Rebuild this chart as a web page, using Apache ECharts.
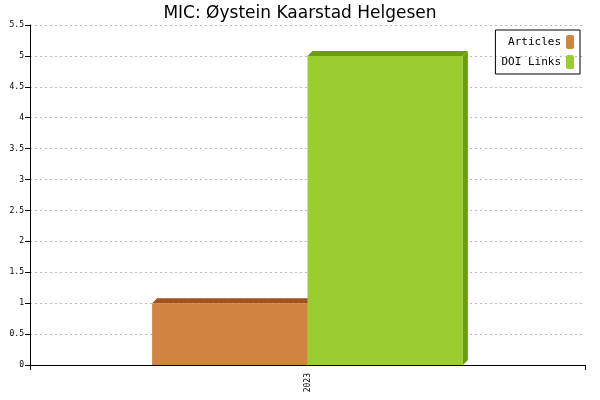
<!DOCTYPE html>
<html><head><meta charset="utf-8">
<script src="https://cdn.jsdelivr.net/npm/echarts@6/dist/echarts.min.js"></script>
<style>html,body{margin:0;padding:0;background:#fff}#c{width:600px;height:400px}</style>
</head><body><div id="c"></div>
<script>
const categories = ['2023'];
const articles = [1];
const doiLinks = [5];
const seriesNames = ['Articles', 'DOI Links'];

const chart = echarts.init(document.getElementById('c'));
function make3d(front, dark, side) {
  return function (params, api) {
    const v = api.value(1);
    const top = api.coord([api.value(0), v]);
    const base = api.coord([api.value(0), 0]);
    const bw = api.size([1, 0])[0];
    const w = bw * 0.28;
    const x0 = side < 0 ? top[0] - w : top[0];
    const x1 = x0 + w;
    const y = top[1], y0 = base[1], d = 5;
    return {
      type: 'group',
      children: [
        { type: 'polygon', shape: { points: [[x1, y], [x1 + d, y - d], [x1 + d, y0 - d], [x1, y0]] }, style: { fill: dark } },
        { type: 'polygon', shape: { points: [[x0, y], [x0 + d, y - d], [x1 + d, y - d], [x1, y]] }, style: { fill: dark } },
        { type: 'rect', shape: { x: x0, y: y, width: w, height: y0 - y }, style: { fill: front } }
      ]
    };
  };
}
chart.setOption({
  animation: false,
  title: { text: 'MIC: Øystein Kaarstad Helgesen', left: 'center', top: 0,
    textStyle: { fontFamily: 'DejaVu Sans', fontSize: 17, fontWeight: 'normal', color: '#000' } },
  legend: { right: 20, top: 30, orient: 'vertical', align: 'right', itemWidth: 8, itemHeight: 14,
    borderColor: '#000', borderWidth: 1, padding: [5, 6], itemGap: 6, borderRadius: 0,
    textStyle: { fontFamily: 'DejaVu Sans Mono', fontSize: 11, color: '#000' },
    data: seriesNames },
  grid: { left: 30, right: 15, top: 25, bottom: 35 },
  xAxis: { type: 'category', data: categories,
    axisLine: { lineStyle: { color: '#000' } }, axisTick: { show: true, lineStyle: { color: '#000' } },
    axisLabel: { rotate: 90, fontFamily: 'DejaVu Sans Mono', fontSize: 8, color: '#000' } },
  yAxis: { type: 'value', min: 0, max: 5.5, interval: 0.5,
    axisLine: { show: true, lineStyle: { color: '#000' } }, axisTick: { show: true, lineStyle: { color: '#000' } },
    axisLabel: { fontFamily: 'DejaVu Sans Mono', fontSize: 8, color: '#000', margin: 6 },
    splitLine: { lineStyle: { color: '#bbb', type: [2, 3] } } },
  series: [
    { name: seriesNames[0], type: 'custom', itemStyle: { color: '#CD853F' },
      renderItem: make3d('#CD853F', '#A0521E', -1),
      data: categories.map((c, i) => [i, articles[i]]) },
    { name: seriesNames[1], type: 'custom', itemStyle: { color: '#9ACD32' },
      renderItem: make3d('#9ACD32', '#6B9E0E', 1),
      data: categories.map((c, i) => [i, doiLinks[i]]) }
  ]
});
</script></body></html>
